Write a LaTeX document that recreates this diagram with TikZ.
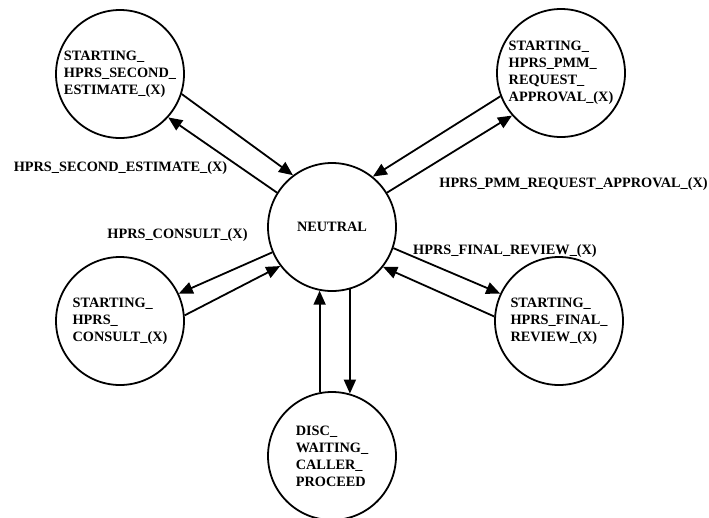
\documentclass[tikz,border=0pt]{standalone}
\usepackage{fontspec}
\setmainfont{Liberation Serif}
\usetikzlibrary{arrows.meta}
\begin{document}
\begin{tikzpicture}[x=1pt,y=-1pt,
  txt/.style={font=\fontsize{14.3}{17}\selectfont\bfseries},
  state/.style={circle,draw,line width=1.8pt,minimum size=128pt,inner sep=0pt,align=left,txt},
  lbl/.style={anchor=base,inner sep=0pt,txt},
  conn/.style={line width=1.8pt,-{Triangle[length=14pt,width=12pt]}}]
\useasboundingbox (0,0) rectangle (709,517);
\node[state] (tl) at (120,74) {STARTING\_\\HPRS\_SECOND\_\\ESTIMATE\_(X)};
\node[state] (tr) at (561,73) {STARTING\_\\HPRS\_PMM\_\\REQUEST\_\\APPROVAL\_(X)};
\node[state] (n) at (332,227) {NEUTRAL};
\node[state] (lm) at (120,321) {STARTING\_\\HPRS\_\\CONSULT\_(X)};
\node[state] (rm) at (559,321) {STARTING\_\\HPRS\_FINAL\_\\REVIEW\_(X)};
\node[state] (b) at (332,456) {DISC\_\\WAITING\_\\CALLER\_\\PROCEED};
\node[lbl] (l1) at (120.5,171) {HPRS\_SECOND\_ESTIMATE\_(X)};
\node[lbl] (l2) at (177.5,238) {HPRS\_CONSULT\_(X)};
\node[lbl] (l3) at (573.5,187) {HPRS\_PMM\_REQUEST\_APPROVAL\_(X)};
\node[lbl] (l4) at (505,254) {HPRS\_FINAL\_REVIEW\_(X)};
\draw[conn] (tl.-18) -- (n.127);
\draw[conn] (n.148) -- (tl.-42);
\draw[conn] (tr.-159) -- (n.51);
\draw[conn] (n.32) -- (tr.-139);
\draw[conn] (n.-157) -- (lm.25);
\draw[conn] (lm.5) -- (n.-143);
\draw[conn] (n.-19) -- (rm.155);
\draw[conn] (rm.176) -- (n.-38);
\draw[conn] (b.101.1) -- (n.-101.1);
\draw[conn] (n.-74.6) -- (b.74.6);
\end{tikzpicture}
\end{document}
